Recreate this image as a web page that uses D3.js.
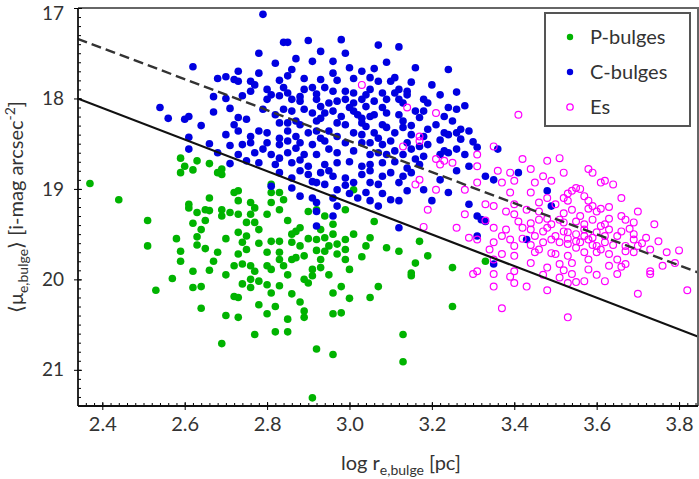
<!DOCTYPE html>
<html>
<head>
<meta charset="utf-8">
<script src="https://cdn.jsdelivr.net/npm/d3@7/dist/d3.min.js"></script>
<style>
  body { margin: 0; background: #fff; }
  svg text { font-family: Lato, "Open Sans", sans-serif; fill: #333; }
</style>
</head>
<body>
<div id="chart"></div>
<script>
// P-bulges: [log r_e, <mu_e>]
const pBulges = [
  [2.37,18.94],[2.44,19.12],[2.51,19.35],[2.51,19.63],[2.59,18.66],[2.60,18.75],[2.59,18.82],[2.62,18.79],
  [2.63,18.69],[2.66,18.72],[2.69,18.78],[2.69,18.84],[2.68,18.82],[2.66,19.10],[2.61,19.17],[2.61,19.21],
  [2.63,19.26],[2.65,19.23],[2.66,19.24],[2.69,19.23],[2.69,19.30],[2.71,19.26],[2.72,19.04],[2.64,19.45],
  [2.63,19.53],[2.63,19.62],[2.65,19.66],[2.59,19.69],[2.59,19.80],[2.67,19.80],[2.62,19.91],[2.72,19.85],
  [2.53,20.12],[2.57,19.99],[2.62,20.09],[2.64,20.08],[2.64,20.32],[2.72,20.19],[2.70,20.40],[2.69,20.71],
  [2.73,19.02],[2.73,19.13],[2.76,19.15],[2.73,19.28],[2.81,18.95],[2.81,19.04],[2.83,19.04],[2.84,19.12],
  [2.81,19.15],[2.83,19.23],[2.80,19.28],[2.77,19.21],[2.76,19.28],[2.77,19.37],[2.75,19.37],[2.90,19.25],
  [2.92,19.23],[2.94,19.30],[2.96,19.39],[2.93,19.45],[3.01,19.01],[2.99,19.23],[3.06,19.36],[2.87,19.47],
  [2.88,19.43],[2.73,19.48],[2.75,19.52],[2.74,19.59],[2.75,19.67],[2.73,19.72],[2.74,19.83],[2.76,19.85],
  [2.81,19.58],[2.83,19.58],[2.80,19.70],[2.83,19.70],[2.86,19.50],[2.86,19.59],[2.88,19.63],[2.87,19.76],
  [2.89,19.74],[2.84,19.85],[2.86,19.78],[2.92,19.56],[2.94,19.54],[2.95,19.63],[2.97,19.61],[2.99,19.56],
  [3.01,19.50],[2.99,19.67],[2.97,19.72],[2.94,19.69],[2.93,19.78],[3.05,19.54],[3.04,19.63],[3.09,19.65],
  [2.99,19.78],[2.80,19.85],[2.81,19.89],[2.77,19.91],[2.91,19.89],[2.93,19.87],[3.00,19.89],
  [2.76,20.00],[2.76,20.09],[2.78,20.02],[2.80,20.06],[2.83,20.07],[2.73,20.20],[2.73,20.42],[2.78,20.28],
  [2.80,20.38],[2.82,20.30],[2.86,20.16],[2.85,20.44],[2.77,20.61],[2.82,20.58],[2.85,20.58],[2.89,20.00],
  [2.90,20.04],[2.91,19.96],[2.89,20.35],[2.89,20.42],[2.92,20.77],[2.96,20.83],[2.91,21.31],[2.96,20.15],
  [2.98,20.08],[3.00,20.21],[2.96,20.38],[2.98,20.37],[3.05,20.20],[3.07,20.08],
  [3.15,19.96],[3.25,20.30],[3.13,20.61],[3.13,20.91],
  [3.12,19.69],[3.17,19.58],[3.19,19.74],[3.16,19.82],[3.25,19.87],[3.15,19.93],[3.33,19.80],
  [2.65,19.35],[2.70,19.55],[2.68,19.70],[2.70,19.95],[2.66,19.90],[2.78,19.60],[2.78,19.45],[2.85,19.35],
  [2.90,19.55],[2.96,19.50],[2.92,19.68],[2.85,19.95],[2.83,19.78],[2.95,19.95],[3.03,19.75],[2.62,19.38],
  [2.58,19.55],[2.74,20.05],[2.88,20.25],[2.81,20.15]
];

// C-bulges: [log r_e, <mu_e>]
const cBulges = [
  [2.62,17.65],[2.68,17.78],[2.70,17.76],[2.72,17.79],[2.67,17.98],[2.54,18.10],[2.56,18.22],[2.60,18.23],
  [2.61,18.20],[2.71,18.11],[2.72,18.29],[2.61,18.43],
  [2.79,17.07],[2.84,17.38],[2.85,17.38],[2.90,17.36],[2.98,17.35],[3.07,17.41],[2.78,17.50],[2.82,17.61],
  [2.87,17.56],[2.91,17.59],[2.96,17.59],[3.00,17.66],[3.06,17.67],[2.73,17.70],[2.78,17.72],[2.86,17.68],
  [2.85,17.75],[2.93,17.79],[2.97,17.80],[3.01,17.78],[3.05,17.77],[3.07,17.81],[3.10,17.81],[2.73,17.81],
  [2.76,17.81],[2.77,17.85],[2.80,17.90],[2.81,17.96],[2.84,17.88],[2.85,17.94],[2.89,17.90],[2.91,17.88],
  [2.94,17.88],[2.96,17.92],[2.99,17.92],[3.01,17.94],[3.05,17.90],[3.08,17.94],[2.74,17.97],[2.76,17.92],
  [2.80,18.01],[2.83,17.97],[2.86,18.01],[2.88,18.03],[2.92,18.01],[2.95,18.05],[2.97,18.03],[2.99,18.01],
  [3.01,18.05],[3.03,18.01],[3.06,18.03],[3.09,18.01],[2.79,18.12],[2.82,18.18],[2.84,18.12],[2.86,18.14],
  [2.89,18.12],[2.91,18.16],[2.94,18.16],[2.96,18.14],[3.01,18.14],[3.02,18.18],[3.05,18.20],[3.06,18.18],
  [3.09,18.16],[2.73,18.21],[2.75,18.23],[2.83,18.27],[2.87,18.25],[2.88,18.29],[2.92,18.25],[2.97,18.27],
  [2.99,18.29],[3.03,18.27],[3.04,18.31],[3.08,18.29],[3.09,18.32],[2.78,18.36],[2.80,18.38],[2.85,18.36],
  [2.90,18.38],[2.92,18.36],[2.95,18.36],[3.01,18.38],[3.06,18.38],[2.73,18.36],
  [3.12,17.43],[3.24,17.68],[3.11,17.77],[3.15,17.82],[3.12,17.90],[3.14,17.96],[3.12,18.01],[3.13,18.05],
  [3.11,17.94],[3.14,17.92],[3.18,18.01],[3.19,18.05],[3.22,17.96],[3.26,17.93],[3.24,18.10],[3.23,18.20],
  [3.26,18.12],[3.28,18.08],[3.16,18.14],[3.17,18.21],[3.18,18.14],[3.12,18.18],[3.13,18.25],[3.21,18.29],
  [3.19,18.34],[3.23,18.38],[3.24,18.40],[3.26,18.38],[3.27,18.34],[3.29,18.36],[3.13,18.32],[3.15,18.40],
  [2.61,18.56],[2.71,18.52],[2.71,18.72],
  [2.74,18.51],[2.76,18.49],[2.80,18.49],[2.83,18.51],[2.85,18.47],[2.88,18.49],[2.91,18.51],[2.94,18.47],
  [2.99,18.49],[3.03,18.49],[3.05,18.49],[3.08,18.51],[3.10,18.47],[2.73,18.62],[2.77,18.60],[2.81,18.62],
  [2.85,18.60],[2.89,18.62],[2.92,18.62],[2.97,18.60],[3.07,18.60],[3.09,18.62],[2.78,18.71],[2.82,18.73],
  [2.86,18.71],[2.90,18.75],[2.94,18.73],[2.97,18.71],[3.05,18.73],[3.08,18.71],[2.83,18.82],[2.88,18.80],
  [2.90,18.84],[2.93,18.82],[2.96,18.86],[2.99,18.88],[3.03,18.84],[3.05,18.80],[3.08,18.86],[3.10,18.82],
  [2.81,18.97],[2.86,18.99],[2.92,18.93],[2.94,18.95],[2.97,19.01],[3.01,18.93],[3.05,18.93],[3.07,18.95],
  [3.04,19.04],[2.88,19.08],[2.91,19.10],[2.92,19.15],[2.96,19.10],[3.02,19.10],[3.05,19.13],[3.07,19.19],
  [3.10,19.12],[2.92,19.25],[2.97,19.19],[2.96,19.30],[2.92,19.41],
  [3.11,18.58],[3.14,18.49],[3.15,18.56],[3.17,18.53],[3.18,18.64],[3.19,18.51],[3.16,18.67],[3.17,18.73],
  [3.14,18.77],[3.15,18.82],[3.23,18.58],[3.22,18.62],[3.24,18.60],[3.26,18.56],[3.28,18.62],[3.31,18.54],
  [3.29,18.75],[3.26,18.80],[3.36,18.56],[3.22,18.90],[3.12,18.93],[3.12,19.13],[3.18,19.01],[3.33,18.86],
  [3.35,18.90],[3.24,19.04],[3.20,19.13],[3.41,18.82],[3.48,19.02],[3.49,19.19],[3.29,19.17],[3.31,19.30],
  [3.32,19.34],[3.33,19.36],[3.12,19.43],[3.31,19.52],[3.43,19.56],[3.35,19.83],
  [2.93,18.44],[2.97,18.42],[3.03,18.40],[3.07,18.44],[3.11,18.38],[2.87,18.42],[2.83,18.44],[2.76,18.42],
  [2.70,18.40],[2.68,18.60],[2.79,18.56],[2.87,18.55],[2.95,18.56],[3.01,18.58],[3.05,18.62],[3.13,18.62],
  [2.75,18.69],[2.83,18.66],[2.88,18.68],[3.00,18.70],[3.03,18.75],[3.11,18.70],[2.86,18.88],[2.91,18.92],
  [2.99,18.96],[3.08,19.05],[3.14,19.02],[3.00,19.05],[2.95,18.80],[3.13,18.86],[2.98,18.20],[2.93,18.22],
  [3.00,18.10],[2.93,18.09],[3.04,18.09],[3.08,18.10],[2.88,17.98],[2.92,17.95],[3.04,17.96],[2.83,17.80],
  [2.89,17.78],[2.96,17.72],[3.03,17.70],[2.99,17.50],[2.93,17.48],[3.09,17.60],[3.16,17.66],[3.20,17.85],
  [3.22,18.46],[3.18,18.42],[3.27,18.45],[3.30,18.48],[3.25,18.25],[3.15,18.30],[2.64,18.30],[2.67,18.15],
  [2.70,18.00],[2.66,18.50],[3.03,18.22],[2.85,18.27]
];

// Es: [log r_e, <mu_e>]
const ellipticals = [
  [3.03,17.85],[3.14,18.10],[3.21,18.16],[3.41,18.18],[3.17,18.42],
  [3.13,18.53],[3.17,18.47],[3.21,18.67],[3.23,18.69],[3.22,18.73],[3.25,18.71],[3.31,18.62],[3.31,18.75],
  [3.35,18.53],[3.42,18.67],[3.48,18.69],[3.17,18.90],[3.16,18.95],[3.21,19.01],[3.28,19.01],[3.31,18.93],
  [3.36,18.80],[3.39,18.82],[3.37,18.93],[3.40,18.91],[3.44,18.78],[3.47,18.86],[3.45,18.93],[3.49,18.91],
  [3.19,19.23],[3.28,19.28],[3.33,19.17],[3.35,19.19],[3.38,19.25],[3.40,19.17],[3.43,19.23],[3.46,19.15],
  [3.48,19.10],[3.39,19.04],[3.44,19.04],[3.18,19.42],[3.26,19.43],[3.29,19.54],[3.35,19.43],[3.37,19.52],
  [3.41,19.36],[3.42,19.43],[3.44,19.38],[3.46,19.34],[3.48,19.43],[3.49,19.39],[3.31,19.56],[3.35,19.59],
  [3.34,19.67],[3.39,19.56],[3.40,19.63],[3.45,19.52],[3.47,19.59],[3.49,19.56],[3.46,19.67],[3.49,19.71],
  [3.37,19.72],[3.35,19.78],[3.40,19.74],[3.44,19.82],[3.48,19.87],[3.31,19.91],[3.40,19.91],
  [3.51,18.66],[3.52,18.82],[3.58,18.78],[3.59,18.82],[3.61,18.93],[3.64,18.95],[3.62,18.91],[3.54,19.02],
  [3.55,18.99],[3.56,19.00],[3.52,19.10],[3.53,19.13],[3.50,19.17],[3.54,19.23],[3.58,19.13],[3.58,19.22],
  [3.59,19.19],[3.60,19.25],[3.61,19.22],[3.51,19.34],[3.52,19.37],[3.55,19.36],[3.57,19.39],[3.59,19.34],
  [3.61,19.41],[3.62,19.39],[3.66,19.30],[3.67,19.34],[3.69,19.37],[3.74,19.39],[3.52,19.47],[3.53,19.48],
  [3.55,19.50],[3.57,19.52],[3.59,19.54],[3.60,19.48],[3.63,19.45],[3.65,19.52],[3.66,19.47],[3.69,19.50],
  [3.72,19.54],[3.51,19.59],[3.53,19.61],[3.56,19.59],[3.58,19.56],[3.60,19.63],[3.62,19.59],[3.67,19.63],
  [3.69,19.56],[3.70,19.63],[3.73,19.67],[3.50,19.72],[3.53,19.74],[3.57,19.70],[3.60,19.70],[3.61,19.67],
  [3.67,19.69],[3.69,19.70],[3.79,19.82],[3.51,19.83],[3.54,19.82],[3.58,19.89],[3.63,19.85],[3.65,19.78],
  [3.66,19.86],[3.67,19.83],[3.73,19.91],
  [3.30,19.94],[3.35,19.94],[3.39,19.97],[3.35,20.08],[3.40,20.04],[3.37,20.32],
  [3.51,19.98],[3.54,19.94],[3.53,20.04],[3.55,20.03],[3.57,20.02],[3.65,19.94],[3.73,19.94],[3.70,20.16],
  [3.82,20.12],[3.53,20.42],
  [3.52,19.27],[3.56,19.30],[3.63,19.33],[3.57,19.45],[3.62,19.52],[3.64,19.62],[3.55,19.65],[3.47,19.47],
  [3.44,19.45],[3.42,19.55],[3.50,19.52],[3.55,19.58],[3.68,19.44],[3.71,19.60],[3.75,19.58],[3.77,19.70],
  [3.63,19.72],[3.58,19.78],[3.52,19.90],[3.47,19.95],[3.44,19.62],[3.38,19.45],[3.33,19.35],[3.53,19.05],
  [3.57,19.08],[3.46,19.25],[3.40,19.28],[3.63,19.20],[3.66,19.10],[3.70,19.25],[3.80,19.68],[3.76,19.85],
  [3.62,20.02],[3.48,20.12],[3.43,20.08],[3.60,19.95],[3.45,19.70],[3.53,19.55],[3.59,19.62],[3.48,19.33]
];

// fitted relations (end points in data units)
const solidFit = [[2.34, 18.00], [3.85, 20.64]];
const dashedFit = [[2.34, 17.34], [3.85, 19.93]];

const xTickValues = [2.4, 2.6, 2.8, 3.0, 3.2, 3.4, 3.6, 3.8];
const yTickValues = [17, 18, 19, 20, 21];
const legendLabels = ["P-bulges", "C-bulges", "Es"];

const width = 699, height = 479;
const margin = { top: 8, right: 1, bottom: 73, left: 78 };
const plotW = width - margin.left - margin.right;
const plotH = height - margin.top - margin.bottom;

const svg = d3.select("#chart").append("svg")
  .attr("width", width).attr("height", height);

const x = d3.scaleLinear().domain([2.341, 3.846]).range([margin.left, margin.left + plotW]);
const y = d3.scaleLinear().domain([17, 21.4]).range([margin.top, margin.top + plotH]);

svg.append("clipPath").attr("id", "plotClip")
  .append("rect")
  .attr("x", margin.left).attr("y", margin.top)
  .attr("width", plotW).attr("height", plotH);

const plot = svg.append("g").attr("clip-path", "url(#plotClip)");

// points
plot.append("g").selectAll("circle").data(pBulges).enter().append("circle")
  .attr("cx", d => x(d[0])).attr("cy", d => y(d[1])).attr("r", 3.8)
  .attr("fill", "#00b300");

plot.append("g").selectAll("circle").data(cBulges).enter().append("circle")
  .attr("cx", d => x(d[0])).attr("cy", d => y(d[1])).attr("r", 3.8)
  .attr("fill", "#0000e0");

plot.append("g").selectAll("circle").data(ellipticals).enter().append("circle")
  .attr("cx", d => x(d[0])).attr("cy", d => y(d[1])).attr("r", 3.4)
  .attr("fill", "none").attr("stroke", "#ff00ff").attr("stroke-width", 1.2);

// relations
const line = d3.line().x(d => x(d[0])).y(d => y(d[1]));
plot.append("path").attr("d", line(solidFit))
  .attr("fill", "none").attr("stroke", "#111").attr("stroke-width", 2.2);
plot.append("path").attr("d", line(dashedFit))
  .attr("fill", "none").attr("stroke", "#333").attr("stroke-width", 2.4)
  .attr("stroke-dasharray", "10,5");

// frame (top/right)
svg.append("path")
  .attr("d", `M${margin.left},${margin.top}H${margin.left + plotW}V${margin.top + plotH}`)
  .attr("fill", "none").attr("stroke", "#666").attr("stroke-width", 2);

// axes
const xMinor = d3.range(118, 193).map(v => v / 50).filter(v => v > 2.341 && v < 3.846);
const yMinor = d3.range(171, 214).map(v => v / 10);

const xAxisG = svg.append("g").attr("transform", `translate(0,${margin.top + plotH})`);
xAxisG.append("g").call(d3.axisBottom(x).tickValues(xMinor).tickSize(-3).tickFormat(""))
  .call(g => g.select(".domain").remove());
xAxisG.append("g").call(d3.axisBottom(x).tickValues(xTickValues).tickSize(-4).tickFormat(""))
  .call(g => g.select(".domain").remove());
xAxisG.append("g")
  .call(d3.axisBottom(x).tickValues(xTickValues).tickSize(4).tickPadding(7).tickFormat(d3.format(".1f")))
  .call(g => g.select(".domain").attr("d", `M${margin.left},0H${margin.left + plotW}`).attr("stroke", "#111").attr("stroke-width", 1.8))
  .call(g => g.selectAll("text").style("font-size", "20px").attr("fill", "#333"));

const yAxisG = svg.append("g").attr("transform", `translate(${margin.left},0)`);
yAxisG.append("g").call(d3.axisLeft(y).tickValues(yMinor).tickSize(-3).tickFormat(""))
  .call(g => g.select(".domain").remove());
yAxisG.append("g").call(d3.axisLeft(y).tickValues(yTickValues).tickSize(-4).tickFormat(""))
  .call(g => g.select(".domain").remove());
yAxisG.append("g")
  .call(d3.axisLeft(y).tickValues(yTickValues).tickSize(4).tickPadding(10).tickFormat(d3.format("d")))
  .call(g => g.select(".domain").attr("d", `M0,${margin.top}V${margin.top + plotH}`).attr("stroke", "#111").attr("stroke-width", 1.8))
  .call(g => g.selectAll("text").style("font-size", "19px").attr("fill", "#333"))
  .call(g => g.selectAll(".tick").filter(d => d === 17).select("text").attr("dy", "0.62em"));

// axis titles
const xTitle = svg.append("text")
  .attr("x", 401).attr("y", 470).attr("text-anchor", "middle").style("font-size", "20px");
xTitle.append("tspan").text("log r");
xTitle.append("tspan").attr("dy", 5).style("font-size", "14px").text("e,bulge");
xTitle.append("tspan").attr("dy", -5).text(" [pc]");

const yTitle = svg.append("text")
  .attr("transform", "translate(23,207) rotate(-90)")
  .attr("text-anchor", "middle").style("font-size", "20px");
yTitle.append("tspan").text("\u27E8\u03BC");
yTitle.append("tspan").attr("dy", 5).style("font-size", "14px").text("e,bulge");
yTitle.append("tspan").attr("dy", -5).text("\u27E9 [i-mag arcsec");
yTitle.append("tspan").attr("dy", -8).style("font-size", "14px").text("-2");
yTitle.append("tspan").attr("dy", 8).text("]");

// legend
const legend = svg.append("g");
legend.append("rect")
  .attr("x", 545).attr("y", 13).attr("width", 145).attr("height", 113)
  .attr("fill", "#fff").attr("stroke", "#555").attr("stroke-width", 2);
const legendY = d3.scalePoint().domain(legendLabels).range([37, 107]);
const legendRow = legend.selectAll(".row").data(legendLabels).enter().append("g")
  .attr("transform", d => `translate(570,${legendY(d)})`);
legendRow.append("circle").attr("r", 3.2)
  .attr("fill", (d, i) => ["#00b300", "#0000e0", "none"][i])
  .attr("stroke", (d, i) => i === 2 ? "#ff00ff" : "none")
  .attr("stroke-width", 1.3);
legendRow.append("text").attr("x", 20).attr("dy", "0.35em")
  .style("font-size", "20px").text(d => d);
</script>
</body>
</html>
